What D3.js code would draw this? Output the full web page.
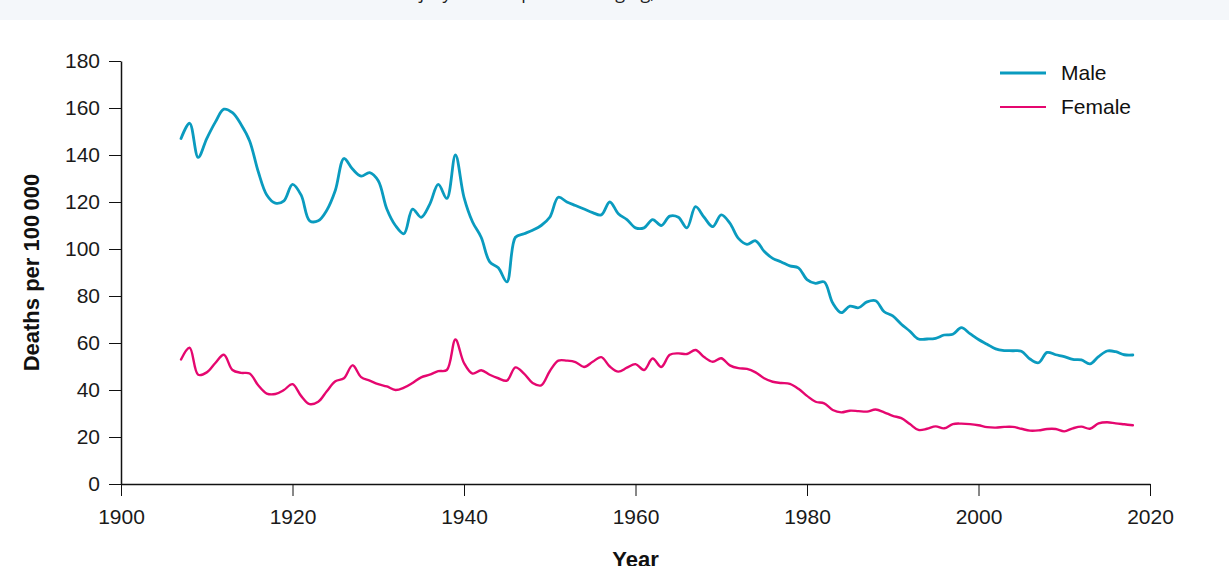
<!DOCTYPE html>
<html>
<head>
<meta charset="utf-8">
<script src="https://cdn.jsdelivr.net/npm/d3@7"></script>
<style>
  html, body { margin: 0; padding: 0; background: #fff; }
  svg { display: block; font-family: "Liberation Sans", Arial, Helvetica, sans-serif; }
</style>
</head>
<body>
<div id="chart"></div>
<script>
// Años y tasas
const years = d3.range(1907, 2019);

const male = [
  147, 153.5, 139, 147, 154, 159.5, 158, 153, 146, 133,
  123, 119.5, 120.5, 127.5, 123, 112, 112, 116.5, 125, 138.5,
  134, 131, 132.5, 129, 117, 110, 106.5, 117, 113.5, 119,
  127.5, 121.5, 140, 122, 111.5, 105, 94.5, 92, 86, 105,
  106.5, 108, 110, 113.5, 122, 120, 118.5, 117, 115.5, 114.5,
  120, 115, 112.5, 109, 109, 112.5, 110, 114, 113.5, 109,
  118, 113.5, 109.5, 114.5, 111, 104.5, 102, 103.5, 99, 96,
  94.5, 92.8, 92, 87, 85.4, 86, 77, 72.9, 75.7, 75,
  77.5, 78, 73.3, 71.5, 68, 65, 61.7, 61.7, 62, 63.4,
  63.7, 66.5, 64, 61.5, 59.5, 57.5, 56.8, 56.7, 56.5, 53.2,
  51.6, 56, 55, 54.2, 53, 52.8, 51.1, 54.2, 56.6, 56.3,
  55, 54.9
];

const female = [
  53, 58, 46.5, 47.5, 51.5, 55, 48.5, 47.3, 47, 42,
  38.5, 38.3, 40, 42.5, 37.5, 34, 35, 39.5, 43.7, 45,
  50.5, 45.5, 44, 42.5, 41.5, 40, 41, 43, 45.4, 46.5,
  48, 48.5, 61.5, 51.5, 47, 48.4, 46.5, 45, 44, 49.6,
  47, 43, 42, 48, 52.5, 52.5, 51.9, 49.8, 52, 54,
  50, 47.8, 49.5, 51, 48.5, 53.4, 49.8, 55, 55.6, 55.3,
  57, 54, 52, 53.5, 50.5, 49.3, 49, 47.5, 45, 43.5,
  43, 42.6, 40.5, 37.5, 35, 34.3, 31.5, 30.5, 31.2, 31,
  30.8, 31.7, 30.5, 29, 28, 25.5, 23, 23.5, 24.5, 23.7,
  25.5, 25.7, 25.5, 25, 24.2, 24, 24.3, 24.3, 23.5, 22.7,
  22.8, 23.4, 23.4, 22.4, 23.7, 24.4, 23.5, 25.8, 26.3, 25.8,
  25.4, 25
];

const xTicks = [1900, 1920, 1940, 1960, 1980, 2000, 2020];
const yTicks = [0, 20, 40, 60, 80, 100, 120, 140, 160, 180];
const seriesNames = ["Male", "Female"];
const seriesColors = ["#0a9bbf", "#e5076f"];

const W = 1229, H = 566;
const margin = { top: 61, right: 79, bottom: 82, left: 121 };

const svg = d3.select("#chart").append("svg")
  .attr("width", W)
  .attr("height", H);

// Banda superior (título recortado por arriba)
svg.append("rect")
  .attr("x", 0).attr("y", 0)
  .attr("width", W).attr("height", 20)
  .attr("fill", "#f4f7fa");

svg.append("text")
  .attr("x", 404)
  .attr("y", -1.5)
  .attr("fill", "#222")
  .style("font-family", "'Open Sans', sans-serif")
  .style("font-size", "18px")
  .text("injury and suspected hanging,");

const x = d3.scaleLinear()
  .domain([1900, 2020])
  .range([margin.left, W - margin.right]);

const y = d3.scaleLinear()
  .domain([0, 180])
  .range([H - margin.bottom, margin.top]);

// Ejes
const xAxis = svg.append("g")
  .attr("transform", `translate(0,${y(0)})`)
  .call(d3.axisBottom(x).tickValues(xTicks).tickFormat(d3.format("d"))
    .tickSize(12).tickSizeOuter(0).tickPadding(13));

const yAxis = svg.append("g")
  .attr("transform", `translate(${x(1900)},0)`)
  .call(d3.axisLeft(y).tickValues(yTicks).tickSize(12).tickSizeOuter(0).tickPadding(9));

[xAxis, yAxis].forEach(g => {
  g.select(".domain").attr("stroke", "#111").attr("stroke-width", 1.5);
  g.selectAll(".tick line").attr("stroke", "#111").attr("stroke-width", 1);
  g.selectAll(".tick text")
    .attr("fill", "#1a1a1a")
    .style("font-size", "21px")
    .style("font-family", "'Liberation Sans', Arial, sans-serif");
});

// Etiquetas de ejes
svg.append("text")
  .attr("transform", "rotate(-90)")
  .attr("x", -y(90))
  .attr("y", 39)
  .attr("text-anchor", "middle")
  .attr("fill", "#111")
  .style("font-size", "22px")
  .style("font-weight", "bold")
  .text("Deaths per 100\u2009000");

svg.append("text")
  .attr("x", (x(1900) + x(2020)) / 2)
  .attr("y", 567)
  .attr("text-anchor", "middle")
  .attr("fill", "#111")
  .style("font-size", "22px")
  .style("font-weight", "bold")
  .text("Year");

// Líneas
const line = d3.line()
  .x((d, i) => x(years[i]))
  .y(d => y(d))
  .curve(d3.curveCatmullRom.alpha(0.5));

[male, female].forEach((vals, k) => {
  svg.append("path")
    .datum(vals)
    .attr("fill", "none")
    .attr("stroke", seriesColors[k])
    .attr("stroke-width", k === 0 ? 2.8 : 2.4)
    .attr("stroke-linejoin", "round")
    .attr("stroke-linecap", "round")
    .attr("d", line);
});

// Leyenda
const legend = svg.append("g").attr("transform", "translate(1000,73)");
seriesNames.forEach((name, k) => {
  const row = legend.append("g").attr("transform", `translate(0,${k * 34})`);
  row.append("line")
    .attr("x1", 0).attr("x2", 46)
    .attr("y1", 0).attr("y2", 0)
    .attr("stroke", seriesColors[k])
    .attr("stroke-width", k === 0 ? 2.8 : 2);
  row.append("text")
    .attr("x", 61)
    .attr("y", 0)
    .attr("dy", "0.35em")
    .attr("fill", "#111")
    .style("font-size", "21px")
    .text(name);
});
</script>
</body>
</html>
